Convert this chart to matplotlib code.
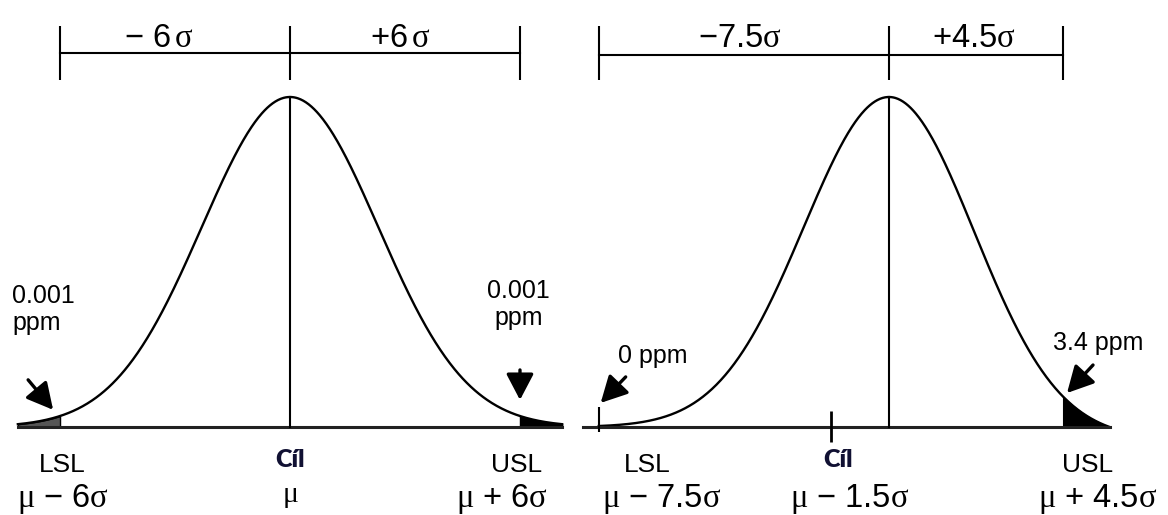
import numpy as np
import matplotlib.pyplot as plt

plt.rcParams['font.family'] = ['Liberation Sans', 'DejaVu Sans']
plt.rcParams['mathtext.fontset'] = 'custom'
plt.rcParams['mathtext.rm'] = 'Liberation Serif'
plt.rcParams['mathtext.it'] = 'Liberation Serif:italic'

# ---- data (x in sigma units, 0 = process mean) ----
left_limits = [-6.0, 6.0]        # LSL, USL
left_sd = 2.30                   # drawn width of the bell
left_span = [-7.1, 7.1]
left_top = [r'− 6$\,\mathrm{\sigma}$', r'+6$\,\mathrm{\sigma}$']
left_low = [r'$\mathrm{\mu}$ − 6$\mathrm{\sigma}$', r'$\mathrm{\mu}$', r'$\mathrm{\mu}$ + 6$\mathrm{\sigma}$']
left_ppm = ['0.001\nppm', '0.001\nppm']

right_limits = [-7.5, 4.5]
right_target = -1.5
right_sd = 2.2
right_span = [-7.5, 5.7]
right_base = [-7.9, 5.7]
right_top = [r'−7.5$\mathrm{\sigma}$', r'+4.5$\mathrm{\sigma}$']
right_low = [r'$\mathrm{\mu}$ − 7.5$\mathrm{\sigma}$', r'$\mathrm{\mu}$ − 1.5$\mathrm{\sigma}$',
             r'$\mathrm{\mu}$ + 4.5$\mathrm{\sigma}$']
right_ppm = ['0 ppm', '3.4 ppm']


def bell(x, sd, end=None):
    y = np.exp(-0.5 * (x / sd) ** 2)
    if end is not None:   # let the upper tail run down to the baseline
        y0 = np.exp(-0.5 * (end / sd) ** 2)
        y = np.where(x > 0, (y - y0) / (1 - y0), y)
    return y


W, H = 1168, 515
fig = plt.figure(figsize=(W / 100, H / 100), dpi=100)
ax1 = fig.add_axes([0, 0, 575 / W, 1])
ax2 = fig.add_axes([575 / W, 0, 1 - 575 / W, 1])
ax1.set_xlim(-290 / 38.33, 285 / 38.33)
ax2.set_xlim(-314 / 38.7, 279 / 38.7)
for ax in (ax1, ax2):
    ax.set_ylim(-88 / 330, 427 / 330)
    ax.axis('off')

arrow = dict(arrowstyle='-|>,head_length=0.8,head_width=0.42', mutation_scale=20,
             color='black', lw=2.4, shrinkA=0, shrinkB=0)
big = 23.5
small = 19
y_low = -0.243
y_cil = -0.121
y_spec = -0.136
y_top = 1.1515

# ---------- left panel ----------
x = np.linspace(left_span[0], left_span[1], 800)
ax1.plot(x, bell(x, left_sd), color='black', lw=1.7)
ax1.plot(left_span, [0, 0], color='#222222', lw=2.2)
ax1.plot([0, 0], [0, 1], color='black', lw=1.5)

xs = np.linspace(left_span[0], left_limits[0], 50)
ax1.fill_between(xs, 0, bell(xs, left_sd), color='#555555', ec='black', lw=1)
xs = np.linspace(left_limits[1], left_span[1], 50)
ax1.fill_between(xs, 0, bell(xs, left_sd), color='black', ec='black', lw=1)

yb = 1.133
ax1.plot(left_limits, [yb, yb], color='black', lw=1.5)
ax1.vlines([left_limits[0], 0, left_limits[1]], 1.052, 1.215, color='black', lw=1.5)
ax1.text(-3.42, y_top, left_top[0], fontsize=big, ha='center', va='baseline')
ax1.text(2.87, y_top, left_top[1], fontsize=big, ha='center', va='baseline')

ax1.text(-5.95, y_spec, 'LSL', fontsize=small, ha='center', va='baseline')
ax1.text(5.92, y_spec, 'USL', fontsize=small, ha='center', va='baseline')
ax1.text(0, y_cil, 'Cíl', fontsize=18, fontweight='heavy', family='Lato',
         ha='center', va='baseline', color='#111133')
ax1.text(-5.92, y_low, left_low[0], fontsize=big, ha='center', va='baseline')
ax1.text(0, -0.227, left_low[1], fontsize=big - 2, ha='center', va='baseline')
ax1.text(5.53, y_low, left_low[2], fontsize=big, ha='center', va='baseline')

ax1.text(-7.25, 0.294, left_ppm[0], fontsize=small - 1, ha='left', va='baseline',
         linespacing=1.15)
ax1.text(5.97, 0.309, left_ppm[1], fontsize=small - 1, ha='center', va='baseline',
         linespacing=1.15)
ax1.annotate('', xy=(left_limits[0] - 0.18, 0.052), xytext=(-25, 30),
             textcoords='offset pixels', arrowprops=arrow)
ax1.annotate('', xy=(left_limits[1], 0.082), xytext=(0, 30),
             textcoords='offset pixels', arrowprops=arrow)

# ---------- right panel ----------
x = np.linspace(right_span[0], right_span[1], 800)
ax2.plot(x, bell(x, right_sd, right_span[1]), color='black', lw=1.7)
ax2.plot(right_base, [0, 0], color='#222222', lw=2.2)
ax2.plot([0, 0], [0, 1], color='black', lw=1.5)
ax2.vlines(right_limits[0], -0.015, 0.06, color='black', lw=1.5)
ax2.vlines(right_target, -0.045, 0.05, color='black', lw=2)

xs = np.linspace(right_limits[1], right_span[1], 50)
ax2.fill_between(xs, 0, bell(xs, right_sd, right_span[1]), color='black', ec='black', lw=1)

yb = 1.127
ax2.plot(right_limits, [yb, yb], color='black', lw=1.5)
ax2.vlines([right_limits[0], 0, right_limits[1]], 1.052, 1.215, color='black', lw=1.5)
ax2.text(-3.85, y_top, right_top[0], fontsize=big, ha='center', va='baseline')
ax2.text(2.20, y_top, right_top[1], fontsize=big, ha='center', va='baseline')

ax2.text(-6.25, y_spec, 'LSL', fontsize=small, ha='center', va='baseline')
ax2.text(5.12, y_spec, 'USL', fontsize=small, ha='center', va='baseline')
ax2.text(-1.32, y_cil, 'Cíl', fontsize=18, fontweight='heavy', family='Lato',
         ha='center', va='baseline', color='#111133')
ax2.text(-5.87, y_low, right_low[0], fontsize=big, ha='center', va='baseline')
ax2.text(-1.01, y_low, right_low[1], fontsize=big, ha='center', va='baseline')
ax2.text(5.40, y_low, right_low[2], fontsize=big, ha='center', va='baseline')

ax2.text(-7.0, 0.194, right_ppm[0], fontsize=small - 1, ha='left', va='baseline')
ax2.text(4.24, 0.233, right_ppm[1], fontsize=small - 1, ha='left', va='baseline')
ax2.annotate('', xy=(right_limits[0] + 0.05, 0.073), xytext=(25, 26),
             textcoords='offset pixels', arrowprops=arrow)
ax2.annotate('', xy=(right_limits[1] + 0.1, 0.103), xytext=(26, 28),
             textcoords='offset pixels', arrowprops=arrow)

fig.savefig('out.png', dpi=100)
